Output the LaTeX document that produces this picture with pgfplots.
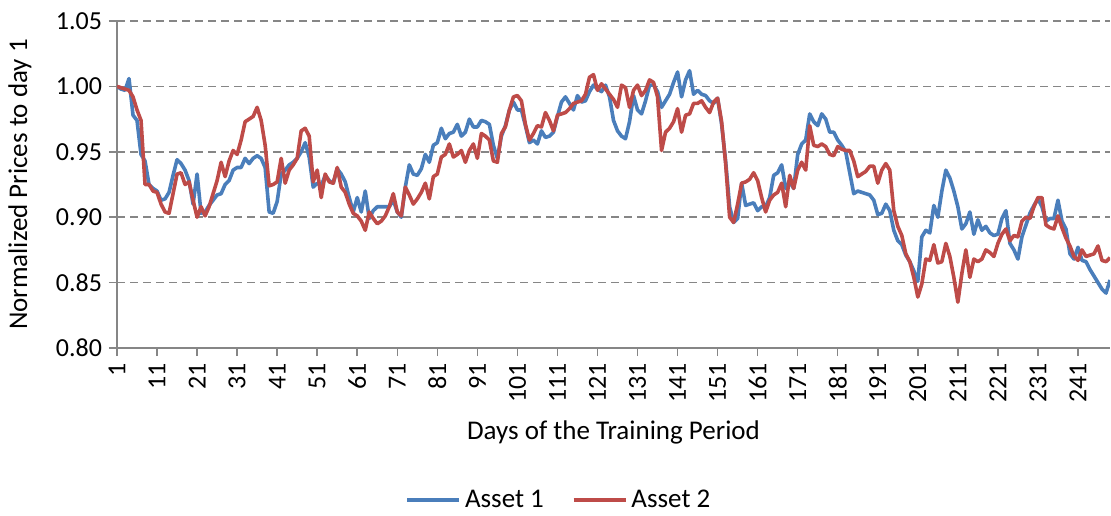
\documentclass[border=0pt]{standalone}
\usepackage{pgfplots}
\pgfplotsset{compat=1.18}
\usepackage{pgfplotstable}
\usepackage{fontspec}
\setmainfont{Carlito}
\definecolor{blueA}{HTML}{4A7EBB}
\definecolor{redA}{HTML}{BE4B48}
\definecolor{axgray}{HTML}{868686}

\pgfplotstableread{
d a1 a2
1 1.000 1.000
2 0.998 0.999
3 0.997 0.998
4 1.006 0.997
5 0.978 0.992
6 0.974 0.982
7 0.948 0.974
8 0.943 0.925
9 0.925 0.925
10 0.922 0.920
11 0.920 0.919
12 0.913 0.910
13 0.914 0.904
14 0.919 0.903
15 0.932 0.918
16 0.944 0.933
17 0.941 0.934
18 0.936 0.925
19 0.928 0.927
20 0.910 0.913
21 0.933 0.900
22 0.903 0.908
23 0.904 0.901
24 0.909 0.908
25 0.913 0.918
26 0.917 0.928
27 0.918 0.942
28 0.925 0.931
29 0.928 0.943
30 0.936 0.951
31 0.938 0.948
32 0.938 0.959
33 0.945 0.973
34 0.941 0.975
35 0.945 0.977
36 0.947 0.984
37 0.945 0.974
38 0.938 0.955
39 0.904 0.924
40 0.903 0.925
41 0.912 0.927
42 0.933 0.945
43 0.936 0.926
44 0.940 0.936
45 0.942 0.940
46 0.945 0.945
47 0.950 0.966
48 0.957 0.968
49 0.946 0.962
50 0.923 0.927
51 0.926 0.936
52 0.924 0.915
53 0.932 0.933
54 0.928 0.927
55 0.926 0.926
56 0.937 0.938
57 0.933 0.923
58 0.927 0.919
59 0.915 0.910
60 0.904 0.903
61 0.915 0.901
62 0.904 0.897
63 0.920 0.890
64 0.899 0.904
65 0.905 0.899
66 0.908 0.895
67 0.908 0.897
68 0.908 0.901
69 0.908 0.908
70 0.913 0.918
71 0.904 0.904
72 0.900 0.901
73 0.923 0.923
74 0.940 0.917
75 0.933 0.910
76 0.932 0.914
77 0.937 0.919
78 0.948 0.926
79 0.942 0.914
80 0.955 0.931
81 0.957 0.933
82 0.968 0.946
83 0.960 0.948
84 0.964 0.956
85 0.965 0.946
86 0.971 0.948
87 0.962 0.951
88 0.965 0.942
89 0.975 0.951
90 0.969 0.956
91 0.969 0.945
92 0.974 0.964
93 0.973 0.962
94 0.971 0.959
95 0.955 0.943
96 0.945 0.942
97 0.962 0.964
98 0.970 0.969
99 0.982 0.982
100 0.988 0.992
101 0.982 0.993
102 0.982 0.989
103 0.970 0.971
104 0.957 0.959
105 0.959 0.964
106 0.956 0.970
107 0.966 0.969
108 0.961 0.980
109 0.962 0.974
110 0.965 0.966
111 0.977 0.978
112 0.988 0.979
113 0.992 0.980
114 0.987 0.983
115 0.982 0.987
116 0.993 0.988
117 0.988 0.989
118 0.989 0.994
119 0.996 1.007
120 1.001 1.009
121 0.998 0.997
122 0.996 1.002
123 1.001 0.998
124 0.992 0.994
125 0.974 0.990
126 0.966 0.984
127 0.962 1.001
128 0.960 0.999
129 0.973 0.984
130 0.993 0.997
131 0.982 1.001
132 0.979 0.993
133 0.989 0.997
134 1.001 1.005
135 1.001 1.003
136 0.996 0.992
137 0.984 0.951
138 0.989 0.965
139 0.994 0.968
140 1.003 0.973
141 1.011 0.983
142 0.992 0.965
143 1.005 0.978
144 1.012 0.979
145 0.994 0.987
146 0.997 0.987
147 0.994 0.989
148 0.993 0.984
149 0.989 0.980
150 0.987 0.988
151 0.991 0.991
152 0.971 0.973
153 0.943 0.941
154 0.908 0.900
155 0.896 0.896
156 0.899 0.910
157 0.926 0.926
158 0.909 0.927
159 0.910 0.929
160 0.911 0.934
161 0.905 0.928
162 0.908 0.915
163 0.908 0.904
164 0.915 0.913
165 0.932 0.917
166 0.934 0.919
167 0.940 0.926
168 0.922 0.908
169 0.927 0.932
170 0.922 0.922
171 0.948 0.936
172 0.956 0.942
173 0.959 0.936
174 0.979 0.970
175 0.973 0.955
176 0.970 0.954
177 0.979 0.956
178 0.975 0.954
179 0.965 0.948
180 0.965 0.947
181 0.959 0.954
182 0.955 0.952
183 0.950 0.951
184 0.934 0.951
185 0.918 0.943
186 0.920 0.931
187 0.919 0.933
188 0.918 0.935
189 0.917 0.939
190 0.913 0.939
191 0.902 0.926
192 0.903 0.936
193 0.910 0.941
194 0.905 0.936
195 0.890 0.905
196 0.882 0.893
197 0.879 0.886
198 0.871 0.872
199 0.866 0.866
200 0.859 0.854
201 0.851 0.839
202 0.885 0.849
203 0.890 0.868
204 0.888 0.867
205 0.909 0.879
206 0.900 0.865
207 0.920 0.866
208 0.936 0.880
209 0.930 0.870
210 0.920 0.854
211 0.908 0.835
212 0.891 0.857
213 0.895 0.875
214 0.904 0.854
215 0.887 0.868
216 0.898 0.866
217 0.890 0.868
218 0.893 0.875
219 0.888 0.873
220 0.886 0.870
221 0.887 0.880
222 0.899 0.887
223 0.905 0.891
224 0.880 0.882
225 0.875 0.886
226 0.868 0.885
227 0.885 0.897
228 0.894 0.900
229 0.903 0.899
230 0.909 0.908
231 0.914 0.915
232 0.908 0.915
233 0.897 0.894
234 0.899 0.892
235 0.899 0.891
236 0.913 0.901
237 0.897 0.892
238 0.891 0.884
239 0.872 0.878
240 0.868 0.870
241 0.877 0.867
242 0.867 0.875
243 0.866 0.870
244 0.860 0.871
245 0.855 0.872
246 0.850 0.878
247 0.845 0.867
248 0.842 0.866
249 0.852 0.869
}\data

\begin{document}
\begin{tikzpicture}
\path[use as bounding box] (-58.5pt,-83.5pt) rectangle (497pt,174pt);
\begin{axis}[
  scale only axis, width=496.5pt, height=163.5pt,
  xmin=1, xmax=249, ymin=0.80, ymax=1.05,
  axis x line*=bottom, axis y line*=left,
  axis line style={axgray, line width=0.75pt, -},
  xtick={1,11,...,241},
  ytick={0.80,0.85,0.90,0.95,1.00,1.05},
  tick style={axgray, line width=0.75pt},
  tick align=outside, major tick length=4pt,
  ymajorgrids,
  grid style={axgray, dash pattern=on 4pt off 2.5pt, line width=0.75pt},
  yticklabel style={/pgf/number format/.cd, fixed, fixed zerofill, precision=2, assume math mode=true},
  xticklabel style={rotate=90, anchor=east, /pgf/number format/assume math mode=true},
  tick label style={font=\fontsize{13}{15}\selectfont, black},
  ylabel={Normalized Prices to day 1},
  ylabel style={font=\fontsize{13.5}{15}\selectfont, at={(axis description cs:0,0.5)}, anchor=center, rotate=0, yshift=48.5pt},
  xlabel={Days of the Training Period},
  xlabel style={font=\fontsize{13.5}{15}\selectfont, at={(axis description cs:0.5,0)}, anchor=center, yshift=-42pt},
  legend style={at={(0.446,-0.465)}, anchor=center, draw=none, legend columns=2,
    font=\fontsize{13.5}{15}\selectfont,
    /tikz/every even column/.append style={column sep=12pt}},
  legend image code/.code={\draw[#1] (0pt,0pt) -- (26pt,0pt);},
]
\addplot[blueA, line width=1.8pt, line join=round] table[x=d, y=a1] {\data};
\addlegendentry{Asset 1}
\addplot[redA, line width=1.8pt, line join=round] table[x=d, y=a2] {\data};
\addlegendentry{Asset 2}
\end{axis}
\end{tikzpicture}
\end{document}
